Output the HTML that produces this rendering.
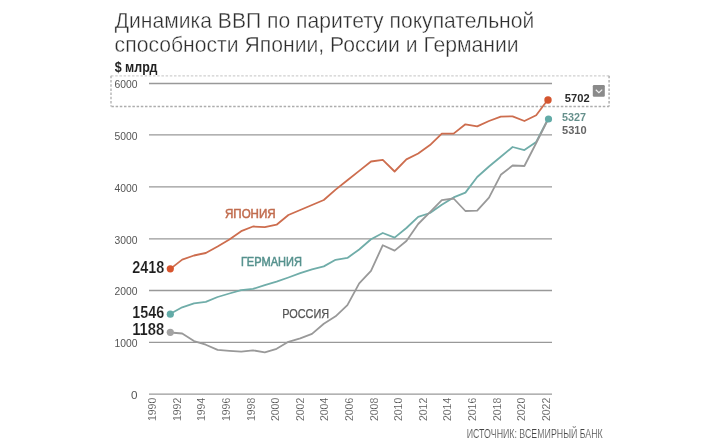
<!DOCTYPE html>
<html><head><meta charset="utf-8"><style>
html,body{margin:0;padding:0;background:#fff;width:720px;height:446px;overflow:hidden}
svg{display:block;will-change:transform;font-family:"Liberation Sans",sans-serif}
</style></head><body>
<svg width="720" height="446" viewBox="0 0 720 446">
<rect width="720" height="446" fill="#fff"/>
<g fill="#2e2e2e" font-size="22.6" stroke="#fff" stroke-width="0.38">
<text x="114.8" y="27.8" textLength="419.5" lengthAdjust="spacingAndGlyphs">Динамика ВВП по паритету покупательной</text>
<text x="114.6" y="52.2" textLength="404" lengthAdjust="spacingAndGlyphs">способности Японии, России и Германии</text>
</g>
<text x="114.7" y="71.6" font-size="14" font-weight="bold" fill="#222" textLength="42.6" lengthAdjust="spacingAndGlyphs">$ млрд</text>
<g stroke="#999" stroke-width="1.3">
<line x1="149" y1="83.5" x2="552" y2="83.5"/>
<line x1="149" y1="134.8" x2="552" y2="134.8"/>
<line x1="149" y1="186.9" x2="552" y2="186.9"/>
<line x1="149" y1="238.8" x2="552" y2="238.8"/>
<line x1="149" y1="290.5" x2="552" y2="290.5"/>
<line x1="149" y1="342.3" x2="552" y2="342.3"/>
<line x1="149" y1="394.2" x2="552" y2="394.2"/>
</g>
<g fill="none" stroke-dasharray="2.5 1.7">
<line x1="111" y1="75.8" x2="609.1" y2="75.8" stroke="#cfcfcf" stroke-width="1.3"/>
<line x1="111" y1="75.8" x2="111" y2="106.5" stroke="#bdbdbd" stroke-width="1.6"/>
<line x1="111" y1="106.5" x2="609.1" y2="106.5" stroke="#adadad" stroke-width="1.7" stroke-dashoffset="-0.4"/>
<line x1="609.1" y1="75.8" x2="609.1" y2="106.5" stroke="#b5b5b5" stroke-width="1.6"/>
</g>
<g fill="#555" font-size="11.6">
<text x="137.5" y="88.3" text-anchor="end" textLength="23" lengthAdjust="spacingAndGlyphs">6000</text>
<text x="137.5" y="139.6" text-anchor="end" textLength="23" lengthAdjust="spacingAndGlyphs">5000</text>
<text x="137.5" y="191.7" text-anchor="end" textLength="23" lengthAdjust="spacingAndGlyphs">4000</text>
<text x="137.5" y="243.6" text-anchor="end" textLength="23" lengthAdjust="spacingAndGlyphs">3000</text>
<text x="137.5" y="295.3" text-anchor="end" textLength="23" lengthAdjust="spacingAndGlyphs">2000</text>
<text x="137.5" y="347.1" text-anchor="end" textLength="23" lengthAdjust="spacingAndGlyphs">1000</text>
<text x="137.5" y="399.0" text-anchor="end" textLength="6.5" lengthAdjust="spacingAndGlyphs">0</text>
</g>
<g fill="#4a4a4a" font-size="11.5" stroke="#fff" stroke-width="0.15">
<text transform="translate(156.1,421) rotate(-90)" textLength="23.2" lengthAdjust="spacingAndGlyphs">1990</text>
<text transform="translate(180.7,421) rotate(-90)" textLength="23.2" lengthAdjust="spacingAndGlyphs">1992</text>
<text transform="translate(205.3,421) rotate(-90)" textLength="23.2" lengthAdjust="spacingAndGlyphs">1994</text>
<text transform="translate(229.9,421) rotate(-90)" textLength="23.2" lengthAdjust="spacingAndGlyphs">1996</text>
<text transform="translate(254.5,421) rotate(-90)" textLength="23.2" lengthAdjust="spacingAndGlyphs">1998</text>
<text transform="translate(279.1,421) rotate(-90)" textLength="23.2" lengthAdjust="spacingAndGlyphs">2000</text>
<text transform="translate(303.7,421) rotate(-90)" textLength="23.2" lengthAdjust="spacingAndGlyphs">2002</text>
<text transform="translate(328.3,421) rotate(-90)" textLength="23.2" lengthAdjust="spacingAndGlyphs">2004</text>
<text transform="translate(352.9,421) rotate(-90)" textLength="23.2" lengthAdjust="spacingAndGlyphs">2006</text>
<text transform="translate(377.5,421) rotate(-90)" textLength="23.2" lengthAdjust="spacingAndGlyphs">2008</text>
<text transform="translate(402.1,421) rotate(-90)" textLength="23.2" lengthAdjust="spacingAndGlyphs">2010</text>
<text transform="translate(426.7,421) rotate(-90)" textLength="23.2" lengthAdjust="spacingAndGlyphs">2012</text>
<text transform="translate(451.3,421) rotate(-90)" textLength="23.2" lengthAdjust="spacingAndGlyphs">2014</text>
<text transform="translate(475.9,421) rotate(-90)" textLength="23.2" lengthAdjust="spacingAndGlyphs">2016</text>
<text transform="translate(500.5,421) rotate(-90)" textLength="23.2" lengthAdjust="spacingAndGlyphs">2018</text>
<text transform="translate(525.1,421) rotate(-90)" textLength="23.2" lengthAdjust="spacingAndGlyphs">2020</text>
<text transform="translate(549.7,421) rotate(-90)" textLength="23.2" lengthAdjust="spacingAndGlyphs">2022</text>
</g>
<polyline fill="none" stroke="#70ada9" stroke-width="1.8" stroke-linejoin="round" points="170.4,313.7 182.2,307.3 194.0,303.3 205.8,301.9 217.6,297.0 229.4,293.5 241.2,290.2 253.0,288.9 264.8,285.1 276.6,281.7 288.4,277.5 300.2,273.1 312.0,269.4 323.8,266.4 335.6,259.8 347.4,257.9 359.2,249.5 371.0,239.2 382.8,233.0 394.6,237.6 406.4,228.0 418.2,216.8 430.0,213.0 441.8,204.7 453.6,197.4 465.4,192.6 477.2,177.0 489.0,166.5 500.8,156.8 512.6,147.0 524.4,150.1 536.2,142.0 548.0,119.0"/>
<polyline fill="none" stroke="#999" stroke-width="1.8" stroke-linejoin="round" points="170.4,332.5 182.2,333.5 194.0,341.1 205.8,344.7 217.6,349.9 229.4,350.8 241.2,351.7 253.0,350.3 264.8,352.4 276.6,348.8 288.4,341.8 300.2,338.3 312.0,333.9 323.8,323.7 335.6,316.3 347.4,305.1 359.2,283.4 371.0,270.8 382.8,245.2 394.6,250.6 406.4,241.0 418.2,224.0 430.0,212.2 441.8,200.1 453.6,198.5 465.4,211.0 477.2,210.6 489.0,197.6 500.8,174.8 512.6,165.5 524.4,166.0 536.2,143.0 548.0,119.5"/>
<polyline fill="none" stroke="#cd6d4e" stroke-width="1.8" stroke-linejoin="round" points="170.4,268.9 182.2,259.6 194.0,255.5 205.8,253.0 217.6,246.5 229.4,239.5 241.2,231.2 253.0,226.5 264.8,227.2 276.6,224.7 288.4,215.0 300.2,210.0 312.0,205.0 323.8,200.0 335.6,189.6 347.4,180.2 359.2,170.9 371.0,161.5 382.8,159.9 394.6,171.5 406.4,159.4 418.2,153.5 430.0,145.1 441.8,133.6 453.6,133.6 465.4,124.3 477.2,126.4 489.0,121.0 500.8,116.6 512.6,116.3 524.4,121.0 536.2,115.2 548.0,99.5"/>
<circle cx="170.3" cy="268.8" r="3.6" fill="#d8552e"/>
<circle cx="170.3" cy="314.2" r="3.6" fill="#62aba7"/>
<circle cx="170.3" cy="332.3" r="3.6" fill="#a3a3a3"/>
<circle cx="548" cy="100" r="3.7" fill="#d4552f"/>
<circle cx="548.5" cy="119" r="3.6" fill="#62aba7"/>
<g font-weight="bold" font-size="15.6" fill="#1e1e1e" stroke="#fff" stroke-width="0.15">
<text x="132.2" y="273.3" textLength="32" lengthAdjust="spacingAndGlyphs">2418</text>
<text x="132.2" y="318.1" textLength="32" lengthAdjust="spacingAndGlyphs">1546</text>
<text x="132.2" y="335.2" textLength="32" lengthAdjust="spacingAndGlyphs">1188</text>
</g>
<g font-size="12" stroke-width="0.5">
<text x="225" y="217.6" fill="#c16c4e" stroke="#c16c4e" textLength="50.6" lengthAdjust="spacingAndGlyphs">ЯПОНИЯ</text>
<text x="240.9" y="265.5" fill="#55918d" stroke="#55918d" textLength="61" lengthAdjust="spacingAndGlyphs">ГЕРМАНИЯ</text>
<text x="282.2" y="318.3" fill="#555" stroke="#555" stroke-width="0.25" textLength="47" lengthAdjust="spacingAndGlyphs">РОССИЯ</text>
</g>
<text x="564.8" y="102" font-size="11.4" font-weight="bold" fill="#2a2a2a" textLength="24.8" lengthAdjust="spacingAndGlyphs">5702</text>
<text x="562.0" y="120.8" font-size="11.4" font-weight="bold" fill="#66908c" textLength="24" lengthAdjust="spacingAndGlyphs">5327</text>
<text x="562.0" y="134.4" font-size="11.4" font-weight="bold" fill="#666" textLength="24.6" lengthAdjust="spacingAndGlyphs">5310</text>
<rect x="592.8" y="85.1" width="12" height="11.7" rx="1.2" fill="#8a8a8a"/>
<polyline points="595.8,89.8 598.9,92.6 602.2,89.6" fill="none" stroke="#f2f2f2" stroke-width="1.15"/>
<text x="466.7" y="437.8" font-size="12" fill="#444" stroke="#fff" stroke-width="0.2" textLength="136" lengthAdjust="spacingAndGlyphs">ИСТОЧНИК: ВСЕМИРНЫЙ БАНК</text>
</svg>
</body></html>
